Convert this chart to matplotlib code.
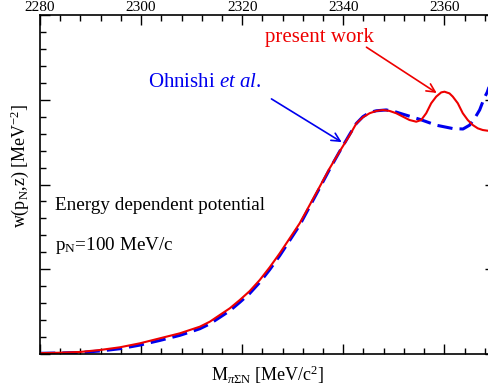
import matplotlib
matplotlib.use("Agg")
import matplotlib.pyplot as plt
from matplotlib.ticker import MultipleLocator

plt.rcParams["font.family"] = ["Liberation Serif", "DejaVu Serif"]
plt.rcParams["mathtext.fontset"] = "custom"
plt.rcParams["mathtext.rm"] = "Liberation Serif"
plt.rcParams["mathtext.it"] = "Liberation Serif:italic"

# spectrum, present work (solid red)
m_present = [2280.0, 2283.95, 2287.9, 2291.86, 2295.81, 2299.76, 2303.72,
             2307.67, 2309.64, 2311.62, 2313.6, 2315.57, 2317.55, 2319.53,
             2321.5, 2323.48, 2325.45, 2327.43, 2329.41, 2331.38, 2333.36,
             2335.34, 2337.31, 2339.29, 2341.26, 2342.59, 2343.89, 2345.22,
             2346.54, 2347.85, 2349.17, 2350.49, 2351.8, 2353.12, 2354.45,
             2355.43, 2356.42, 2357.41, 2358.4, 2359.39, 2360.04, 2361.03,
             2361.68, 2362.67, 2363.66, 2364.64, 2365.63, 2366.62, 2367.61,
             2368.54, 2370.0]
w_present = [0.01, 0.015, 0.024, 0.047, 0.079, 0.126, 0.185,
             0.244, 0.283, 0.322, 0.381, 0.46, 0.539, 0.637,
             0.743, 0.873, 1.023, 1.188, 1.365, 1.542, 1.758,
             1.974, 2.191, 2.39, 2.58, 2.72, 2.793, 2.841,
             2.868, 2.879, 2.868, 2.841, 2.801, 2.761, 2.741,
             2.761, 2.841, 2.959, 3.037, 3.087, 3.095, 3.075,
             3.037, 2.959, 2.841, 2.761, 2.702, 2.663, 2.643,
             2.635, 2.63]

# spectrum, Ohnishi et al. (dashed blue)
m_ohnishi = [2280.0, 2283.95, 2287.9, 2291.86, 2295.81, 2299.76, 2303.72,
             2307.67, 2309.64, 2311.62, 2313.6, 2315.57, 2317.55, 2319.53,
             2321.5, 2323.48, 2325.45, 2327.43, 2329.41, 2331.38, 2333.36,
             2335.34, 2337.31, 2339.29, 2341.26, 2342.59, 2343.89, 2345.22,
             2346.54, 2348.5, 2350.2, 2351.8, 2355.1, 2358.4, 2361.7,
             2363.7, 2365.0, 2366.0, 2367.0, 2367.9, 2368.5, 2370.0]
w_ohnishi = [0.008, 0.012, 0.018, 0.035, 0.062, 0.105, 0.16,
             0.22, 0.258, 0.298, 0.355, 0.432, 0.51, 0.61,
             0.715, 0.845, 0.995, 1.16, 1.34, 1.52, 1.74,
             1.96, 2.18, 2.39, 2.59, 2.72, 2.80, 2.85,
             2.87, 2.88, 2.86, 2.83, 2.77, 2.70, 2.66,
             2.655, 2.70, 2.78, 2.88, 3.02, 3.09, 3.35]

fig = plt.figure(figsize=(4.88, 3.89), dpi=100)
ax = fig.add_axes([0.082, 0.090, 0.932, 0.8714])

ax.plot(m_ohnishi, w_ohnishi, color="#0000ee", lw=2.2, dashes=(5, 2.3))
ax.plot(m_present, w_present, color="#ee0000", lw=1.5)

ax.set_xlim(2280, 2370)
ax.set_ylim(0, 4)
ax.xaxis.set_major_locator(MultipleLocator(20))
ax.xaxis.set_minor_locator(MultipleLocator(4))
ax.yaxis.set_major_locator(MultipleLocator(1))
ax.yaxis.set_minor_locator(MultipleLocator(0.2))
ax.tick_params(which="both", direction="in", top=True, right=True,
               labeltop=True, labelbottom=False, labelleft=False,
               labelsize=11, pad=1, width=1)
ax.tick_params(which="major", length=7)
ax.tick_params(which="minor", length=4)
for sp in ax.spines.values():
    sp.set_linewidth(1.2)

ax.set_xlabel(r"M$_{\pi\Sigma\mathrm{N}}$ [MeV/c$^2$]", fontsize=13)
ax.xaxis.set_label_coords(0.50, -0.028)
ax.set_ylabel(r"w(p$_\mathrm{N}$,z) [MeV$^{-2}$]", fontsize=13)
ax.yaxis.set_label_coords(-0.02, 0.555)

# labels with arrows pointing at the curves
arrow_kw = dict(arrowstyle="->,head_length=0.6,head_width=0.3",
                lw=1.2, shrinkA=0, shrinkB=0)
ax.text(2335.3, 3.73, "present work", color="#ee0000", fontsize=15,
        ha="center", va="center")
ax.annotate("", xy=(2358.5, 3.08), xytext=(2344.6, 3.62),
            arrowprops=dict(color="#ee0000", **arrow_kw))
ax.text(2312.6, 3.20, r"Ohnishi $\mathit{et\ al.}$", color="#0000ee",
        fontsize=15, ha="center", va="center")
ax.annotate("", xy=(2339.7, 2.50), xytext=(2325.8, 3.01),
            arrowprops=dict(color="#0000ee", **arrow_kw))

ax.text(2283.0, 1.70, "Energy dependent potential", fontsize=13.8,
        va="baseline")
ax.text(2283.0, 1.23, r"p$_\mathrm{N}$=100 MeV/c", fontsize=13.8,
        va="baseline")

fig.savefig("out.png", dpi=100)
